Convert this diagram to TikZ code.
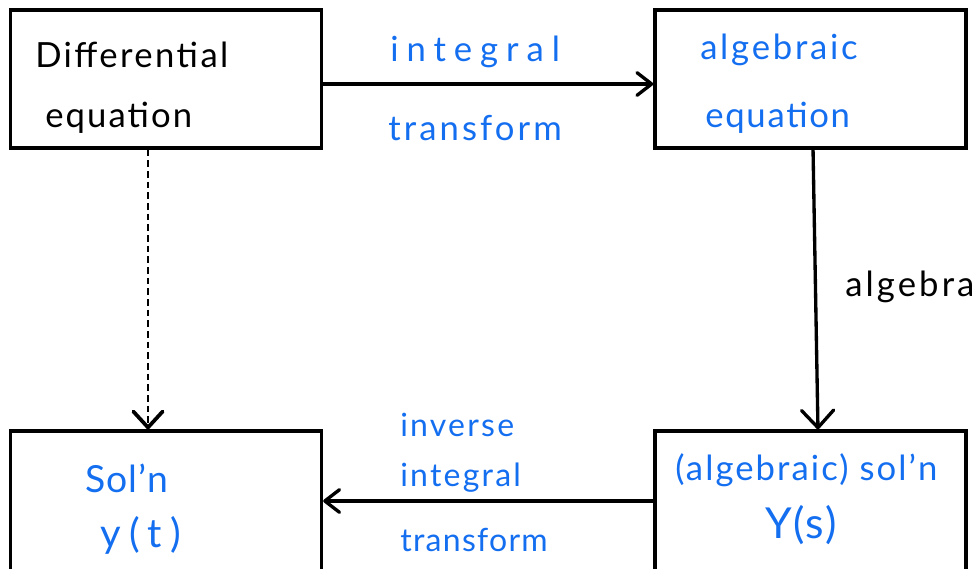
\documentclass[tikz,border=0pt]{standalone}
\usepackage{fontspec}
\setmainfont{Lato}
\usetikzlibrary{arrows.meta}
\definecolor{ink}{RGB}{20,110,240}
\begin{document}
\begin{tikzpicture}[x=0.75pt,y=-0.75pt,
  box/.style={draw, line width=2.5pt, minimum width=233.25pt, minimum height=103.5pt, inner sep=0pt},
  tallbox/.style={box, minimum height=105pt},
  lbl/.style={anchor=west, inner sep=0pt},
  sz/.style 2 args={font=\fontsize{#1}{#1}\selectfont\addfontfeatures{LetterSpace=#2}},
  blue/.style={lbl, text=ink},
  arr/.style={line width=2.5pt, -{Straight Barb[length=11pt,width=17pt,round]}},
  bigarr/.style={line width=2.5pt, -{Straight Barb[length=13pt,width=24pt,round]}},
  dasharr/.style={line width=1.5pt, dash pattern=on 5pt off 3pt, -{Straight Barb[length=12pt,width=22pt,round,line width=2.8pt]}}]
\useasboundingbox (0,0) rectangle (980,568);
\node[box] (tl) at (166,79) {};
\node[box] (tr) at (810.5,79) {};
\node[tallbox] (bl) at (166,501) {};
\node[tallbox] (br) at (810.5,501) {};
% texts
\node[lbl, sz={26}{7}] (de1) at (35,55) {Differential};
\node[lbl, sz={26}{6}] (de2) at (45,118) {equation};
\node[blue, sz={26}{23}] (it1) at (390,52) {integral};
\node[blue, sz={26}{9}] (it2) at (388,128) {transform};
\node[blue, sz={26}{8}] (ae1) at (700,50) {algebraic};
\node[blue, sz={26}{5}] (ae2) at (705,118) {equation};
\node[lbl, sz={26}{9}] (alg) at (845,287) {algebra};
\node[blue, sz={24}{7}] (iv1) at (400,425) {inverse};
\node[blue, sz={24}{7}] (iv2) at (400,478) {integral};
\node[blue, sz={24}{4}] (iv3) at (400,540) {transform};
\node[blue, sz={28}{3}] (sl1) at (85,478) {Sol'n};
\node[blue, sz={30}{21}] (sl2) at (100,535) {y(t)};
\node[blue, sz={26}{6}] (as1) at (675,470) {(algebraic) sol'n};
\node[blue, sz={32}{4}] (as2) at (765,525) {Y(s)};
% connectors
\draw[arr] ([yshift=-3.75pt]tl.east) -- ([yshift=-3.75pt]tr.west);
\draw[bigarr] ([xshift=1.9pt]tr.south) -- ([xshift=5.6pt]br.north);
\draw[arr] (br.west) -- (bl.east);
\draw[dasharr] ([xshift=-13.5pt]tl.south) -- ([xshift=-13.5pt]bl.north);
\end{tikzpicture}
\end{document}
